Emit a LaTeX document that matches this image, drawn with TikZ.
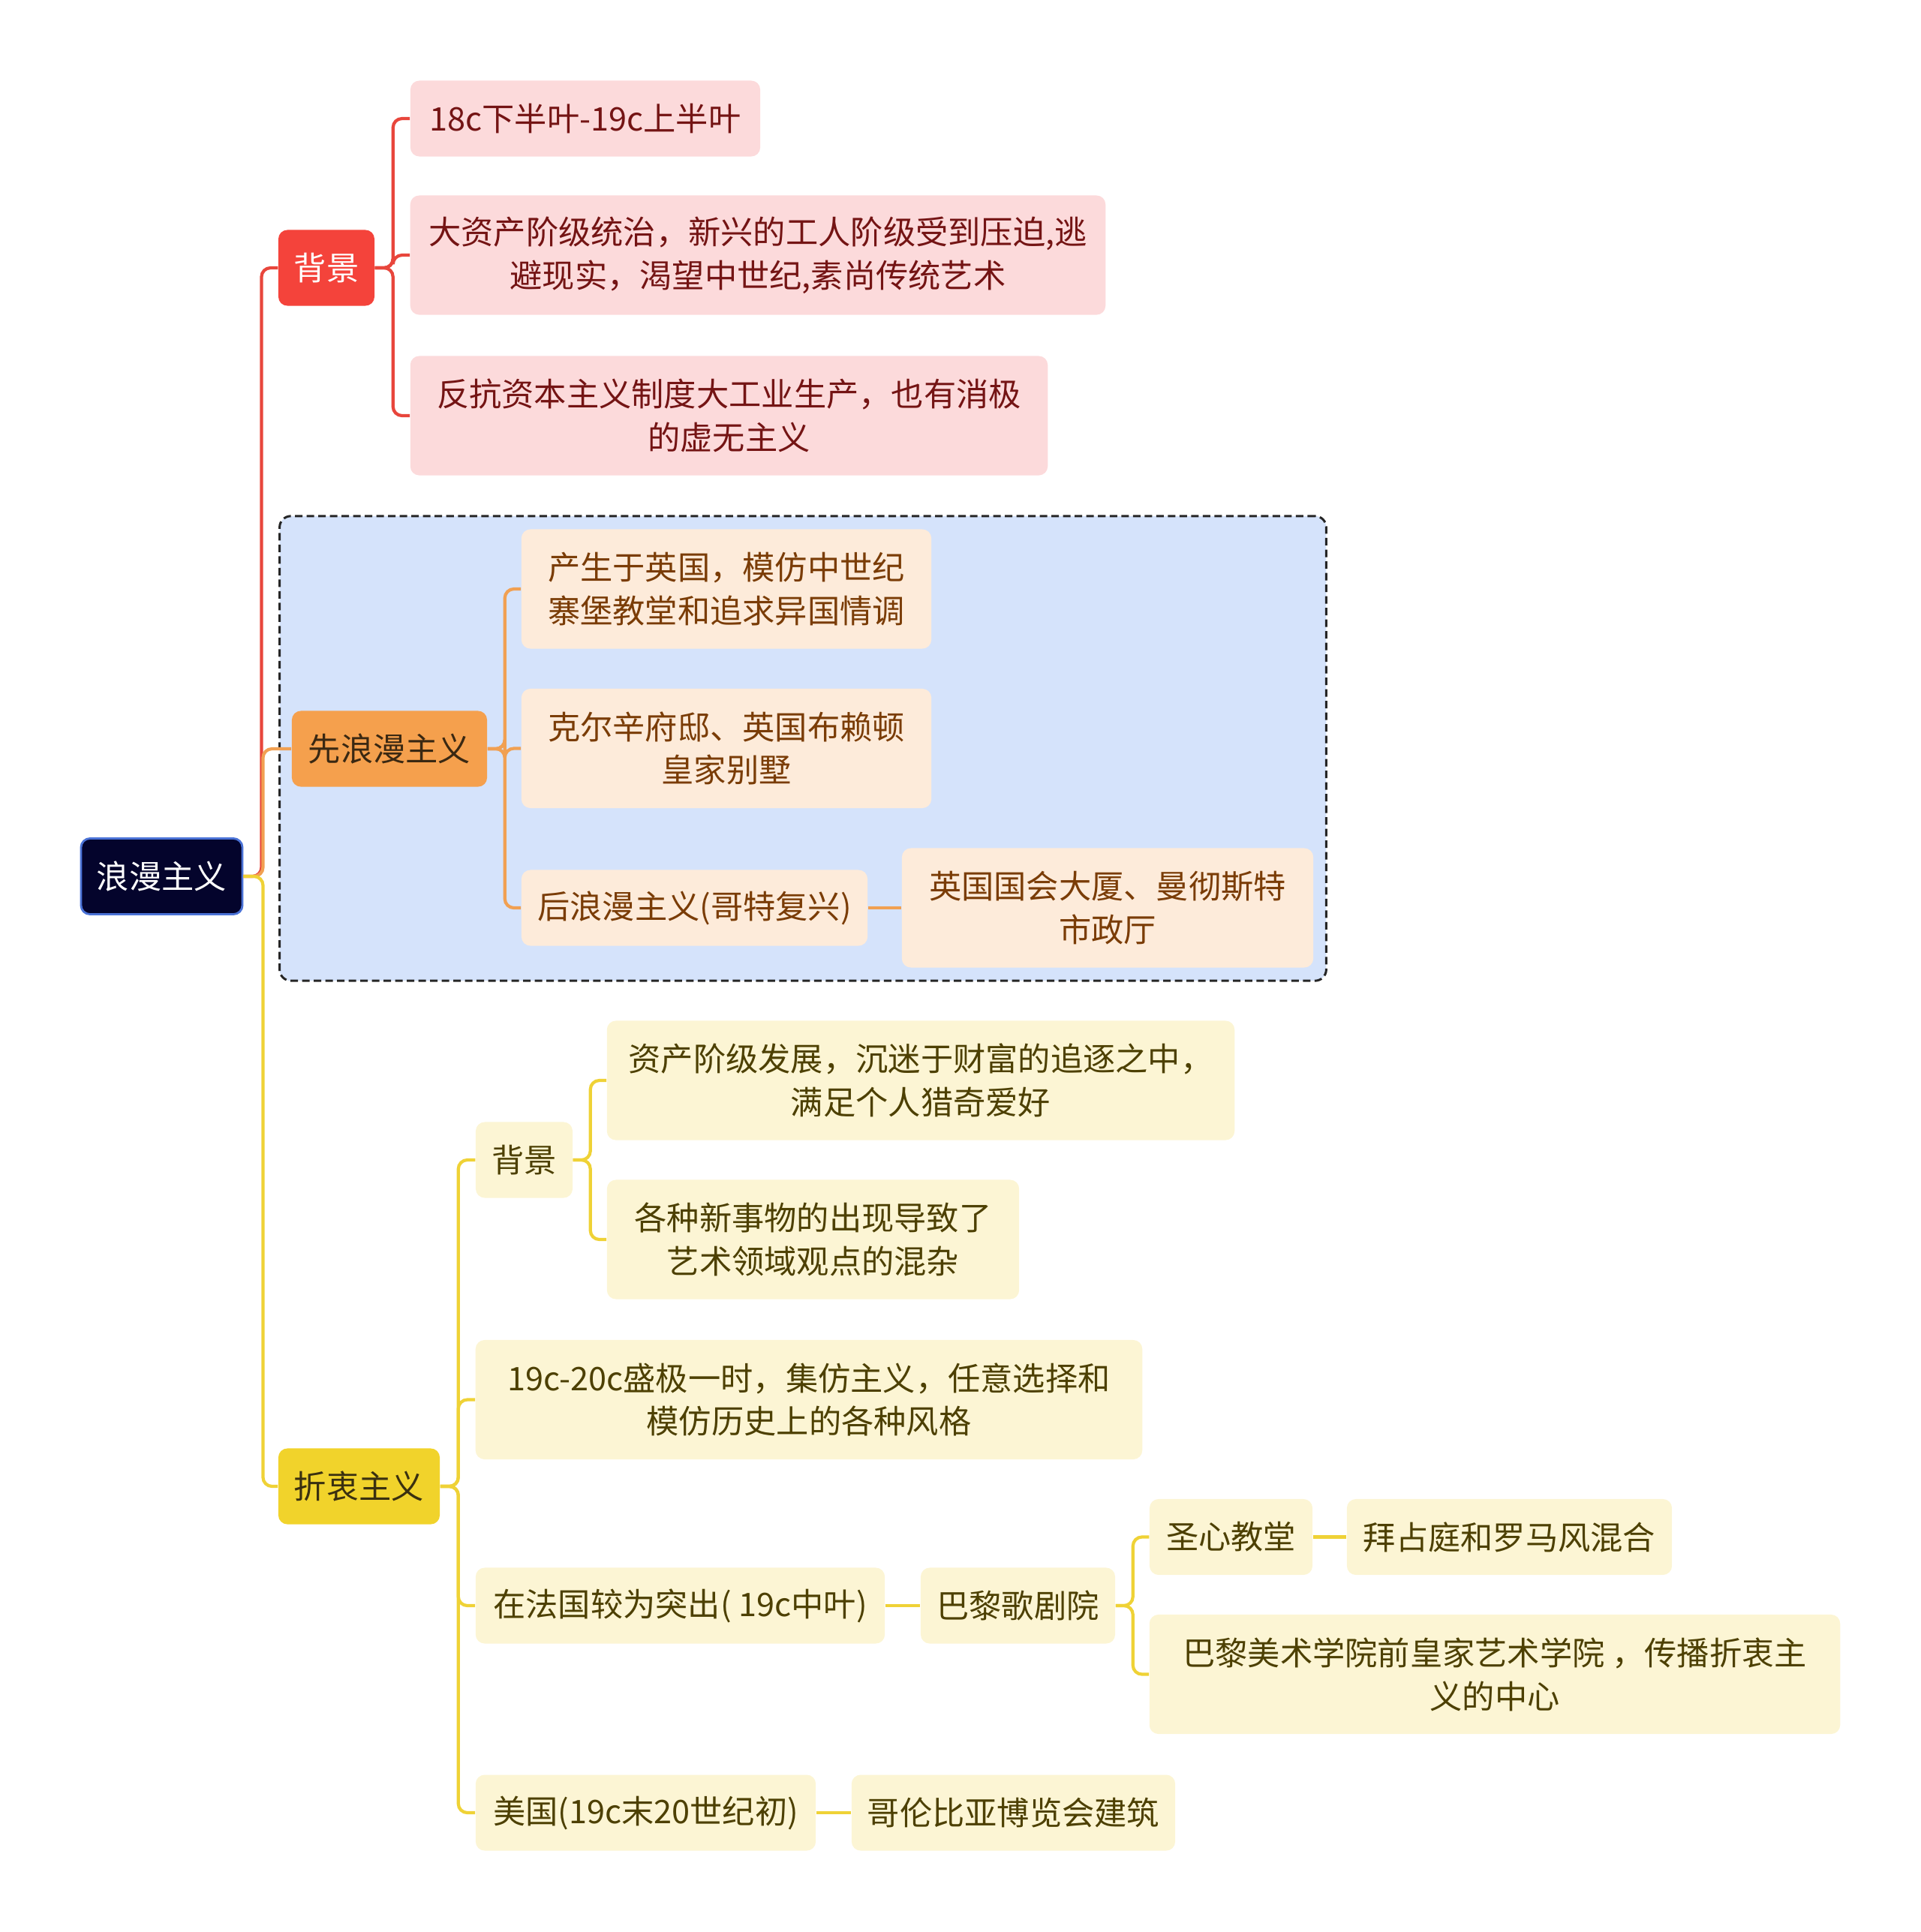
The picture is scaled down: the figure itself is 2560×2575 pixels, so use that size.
\documentclass[tikz,border=0pt]{standalone}
\usepackage{fontspec}
\setmainfont{Noto Sans CJK SC}
\usepackage{tikz}
\usetikzlibrary{positioning}

\definecolor{cRoot}{HTML}{04042C}
\definecolor{cRootLine}{HTML}{4A72D6}
\definecolor{cRed}{HTML}{F4433B}
\definecolor{cRedLine}{HTML}{E8463C}
\definecolor{cRedLeaf}{HTML}{FCDADB}
\definecolor{cRedText}{HTML}{741414}
\definecolor{cOrg}{HTML}{F5A04D}
\definecolor{cOrgLine}{HTML}{F1A052}
\definecolor{cOrgLeaf}{HTML}{FDEBDA}
\definecolor{cOrgText}{HTML}{7A3C06}
\definecolor{cOrgHead}{HTML}{3A2812}
\definecolor{cYel}{HTML}{F1D32B}
\definecolor{cYelLine}{HTML}{EFD236}
\definecolor{cYelLeaf}{HTML}{FCF5D4}
\definecolor{cYelText}{HTML}{4D4002}
\definecolor{cYelHead}{HTML}{3A3010}
\definecolor{cFrame}{HTML}{D5E3FB}

\begin{document}
\begin{tikzpicture}[
  x=0.01cm, y=-0.01cm,
  font=\fontsize{12.3pt}{16.4pt}\selectfont,
  box/.style={rectangle, rounded corners=0.12cm, align=center, inner sep=0pt, minimum height=1.01cm},
  tall/.style={minimum height=1.59cm},
  rootbox/.style={box, fill=cRoot, draw=cRootLine, line width=0.8pt, text=white},
  redhead/.style={box, fill=cRed, text=white},
  redleaf/.style={box, fill=cRedLeaf, text=cRedText},
  orghead/.style={box, fill=cOrg, text=cOrgHead},
  orgleaf/.style={box, fill=cOrgLeaf, text=cOrgText},
  yelhead/.style={box, fill=cYel, text=cYelHead},
  yelleaf/.style={box, fill=cYelLeaf, text=cYelText},
  groupframe/.style={rectangle, rounded corners=0.15cm, fill=cFrame, draw=black!85, line width=0.85pt, dash pattern=on 0.1cm off 0.055cm},
  link/.style={line width=1.2pt, rounded corners=0.12cm}
]
\useasboundingbox (0,0) rectangle (2560,2575);

% dashed group behind the first romantic branch
\node[groupframe, minimum width=13.94cm, minimum height=6.19cm] (grp) at (1070,997.5) {};

% root
\node[rootbox, minimum width=2.15cm] (root) at (215.5,1168) {浪漫主义};

% background branch
\node[redhead, minimum width=1.28cm] (bg1) at (435,357) {背景};
\node[redleaf, minimum width=4.66cm] (r1) at (780,158) {18c下半叶-19c上半叶};
\node[redleaf, tall, minimum width=9.26cm] (r2) at (1010,340) {大资产阶级统治，新兴的工人阶级受到压迫,逃\\避现实，渴望中世纪,素尚传统艺术};
\node[redleaf, tall, minimum width=8.49cm] (r3) at (971.5,554) {反抗资本主义制度大工业生产，也有消极\\的虚无主义};

% early romanticism
\node[orghead, minimum width=2.6cm] (pre) at (519,998) {先浪漫主义};
\node[orgleaf, tall, minimum width=5.46cm] (o1) at (968,785) {产生于英国，模仿中世纪\\寨堡教堂和追求异国情调};
\node[orgleaf, tall, minimum width=5.46cm] (o2) at (968,997.5) {克尔辛府邸、英国布赖顿\\皇家别墅};
\node[orgleaf, minimum width=4.61cm] (o3) at (925.5,1210) {后浪漫主义(哥特复兴)};
\node[orgleaf, tall, minimum width=5.48cm] (o4) at (1476,1210) {英国国会大厦、曼彻斯特\\市政厅};

% eclecticism
\node[yelhead, minimum width=2.15cm] (ecl) at (478.5,1981) {折衷主义};
\node[yelleaf, minimum width=1.29cm] (bg2) at (698.5,1546) {背景};
\node[yelleaf, tall, minimum width=8.36cm] (y1) at (1227,1440) {资产阶级发展，沉迷于财富的追逐之中，\\满足个人猎奇爱好};
\node[yelleaf, tall, minimum width=5.49cm] (y2) at (1083.5,1652) {各种新事物的出现导致了\\艺术领域观点的混杂};
\node[yelleaf, tall, minimum width=8.88cm] (y3) at (1078,1865.5) {19c-20c盛极一时，集仿主义，任意选择和\\模仿历史上的各种风格};
\node[yelleaf, minimum width=5.45cm] (y4) at (906.5,2140) {在法国较为突出( 19c中叶)};
\node[yelleaf, minimum width=2.59cm] (y5) at (1356.5,2140) {巴黎歌剧院};
\node[yelleaf, minimum width=2.17cm] (y6) at (1640.5,2048.5) {圣心教堂};
\node[yelleaf, minimum width=4.33cm] (y7) at (2011.5,2048.5) {拜占庭和罗马风混合};
\node[yelleaf, tall, minimum width=9.2cm] (y8) at (1992,2231.5) {巴黎美术学院前皇家艺术学院 ，传播折衷主\\义的中心};
\node[yelleaf, minimum width=4.53cm] (y9) at (860.5,2416) {美国(19c末20世纪初)};
\node[yelleaf, minimum width=4.31cm] (y10) at (1350.5,2416) {哥伦比亚博览会建筑};

% connectors
\draw[link, cRedLine] (root.east) -- ++(24,0) |- (bg1.west);
\foreach \c in {r1,r2,r3}
  \draw[link, cRedLine] (bg1.east) -- ++(24,0) |- (\c.west);
\draw[link, cOrgLine] (root.east) -- ++(26,0) |- (pre.west);
\foreach \c in {o1,o2,o3}
  \draw[link, cOrgLine] (pre.east) -- ++(23,0) |- (\c.west);
\draw[link, cOrgLine] (o3.east) -- (o4.west);
\draw[link, cYelLine] (root.east) -- ++(26,0) |- (ecl.west);
\foreach \c in {bg2,y3,y4,y9}
  \draw[link, cYelLine] (ecl.east) -- ++(24,0) |- (\c.west);
\foreach \c in {y1,y2}
  \draw[link, cYelLine] (bg2.east) -- ++(23,0) |- (\c.west);
\draw[link, cYelLine] (y4.east) -- (y5.west);
\foreach \c in {y6,y8}
  \draw[link, cYelLine] (y5.east) -- ++(23,0) |- (\c.west);
\draw[link, cYelLine] (y6.east) -- (y7.west);
\draw[link, cYelLine] (y9.east) -- (y10.west);
\end{tikzpicture}
\end{document}
